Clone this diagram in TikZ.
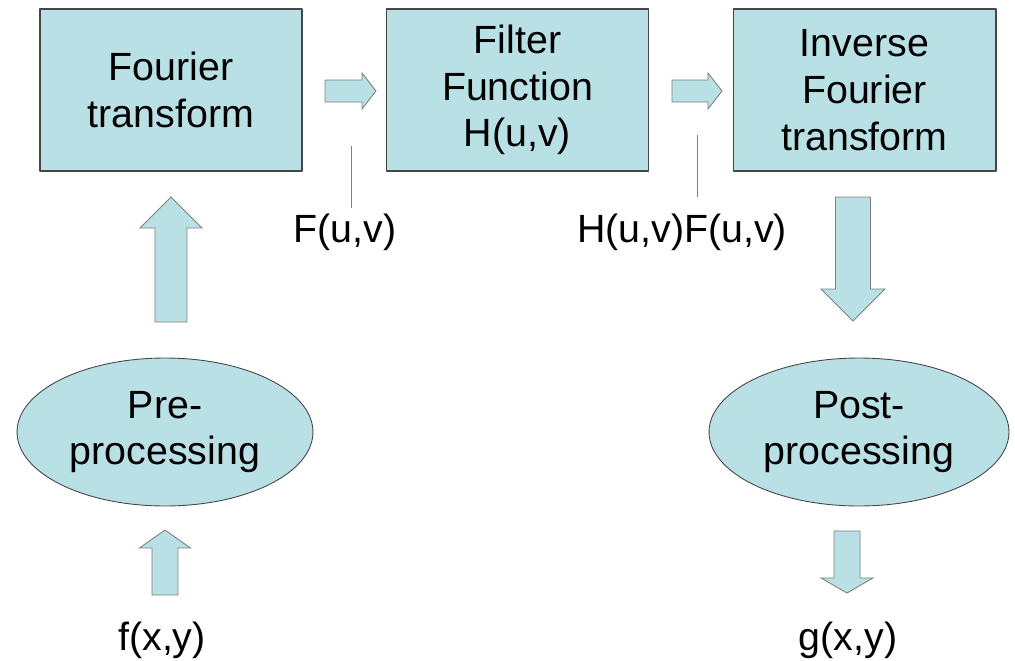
\documentclass[tikz,border=0pt]{standalone}
\usepackage{fontspec}
\setmainfont{Liberation Sans}
\usetikzlibrary{positioning,calc,shapes.geometric}
\definecolor{boxblue}{RGB}{185,224,228}
\definecolor{edgegray}{RGB}{70,70,70}
\tikzset{
  stagebox/.style={draw=edgegray, line width=0.6pt, fill=boxblue, minimum width=5.24cm,
    minimum height=3.24cm, inner sep=0pt, align=center, font=\fontsize{22.4}{26.6}\selectfont},
  stageoval/.style={ellipse, draw=edgegray, line width=0.5pt, fill=boxblue, minimum height=2.96cm,
    inner sep=0pt, align=center, font=\fontsize{22.4}{26.6}\selectfont},
  signal/.style={inner sep=3pt, font=\fontsize{22.4}{26.6}\selectfont},
  blockarr/.style={draw=gray, line width=0.5pt, fill=boxblue, line join=miter},
  tick/.style={draw=gray, line width=0.5pt}
}
% #1 tail, #2 tip, #3 half shaft, #4 half head, #5 head length
\newcommand \blockarrow[5]
{
\coordinate (hb) at ($(#2)!#5!(#1)$);
\draw[blockarr] ($(#1)!#3!90:(#2)$) -- ($(hb)!#3!90:(#2)$) -- ($(hb)!#4!90:(#2)$) -- (#2)
  -- ($(hb)!#4!-90:(#2)$) -- ($(hb)!#3!-90:(#2)$) -- ($(#1)!#3!-90:(#2)$) -- cycle;
}

\begin{document}
\begin{tikzpicture}[x=0.02cm, y=-0.02cm, line join=round]
\useasboundingbox (0,0) rectangle (1015,660);
% stages
\node[stagebox] (ft)   at (171,90)   {Fourier\\transform};
\node[stagebox] (filt) at (517.5,90) {Filter\\Function\\H(u,v)};
\node[stagebox, minimum width=5.26cm] (ift) at (864.5,90) {Inverse\\Fourier\\transform};
\node[stageoval, minimum width=5.92cm] (pre)  at (165,432) {Pre-\\processing};
\node[stageoval, minimum width=6cm]    (post) at (859,432) {Post-\\processing};
% signals
\node[signal] (fuv)  at (345,232) {F(u,v)};
\node[signal] (hfuv) at (682,232) {H(u,v)F(u,v)};
\node[signal] (fxy)  at (162,640) {f(x,y)};
\node[signal] (gxy)  at (848,640) {g(x,y)};
\coordinate (ftop) at (351,146);
\coordinate (fbot) at (351,208);
\coordinate (htop) at (697,135);
\coordinate (hbot) at (697,197);
\draw[tick] (ftop) -- (fbot);
\draw[tick] (htop) -- (hbot);
% block arrows
\coordinate (a1t) at (325,91);  \coordinate (a1h) at (376,91);
\coordinate (a2t) at (672,91);  \coordinate (a2h) at (722,91);
\coordinate (a3t) at (171,322); \coordinate (a3h) at (171,197);
\coordinate (a4t) at (853,197); \coordinate (a4h) at (853,321);
\coordinate (a5t) at (165,595); \coordinate (a5h) at (165,530);
\coordinate (a6t) at (847,531); \coordinate (a6h) at (847,593);
\blockarrow{a1t}{a1h}{0.22cm}{0.36cm}{0.28cm}
\blockarrow{a2t}{a2h}{0.22cm}{0.36cm}{0.28cm}
\blockarrow{a3t}{a3h}{0.32cm}{0.62cm}{0.62cm}
\blockarrow{a4t}{a4h}{0.35cm}{0.64cm}{0.64cm}
\blockarrow{a5t}{a5h}{0.26cm}{0.51cm}{0.36cm}
\blockarrow{a6t}{a6h}{0.26cm}{0.52cm}{0.30cm}
\end{tikzpicture}
\end{document}
